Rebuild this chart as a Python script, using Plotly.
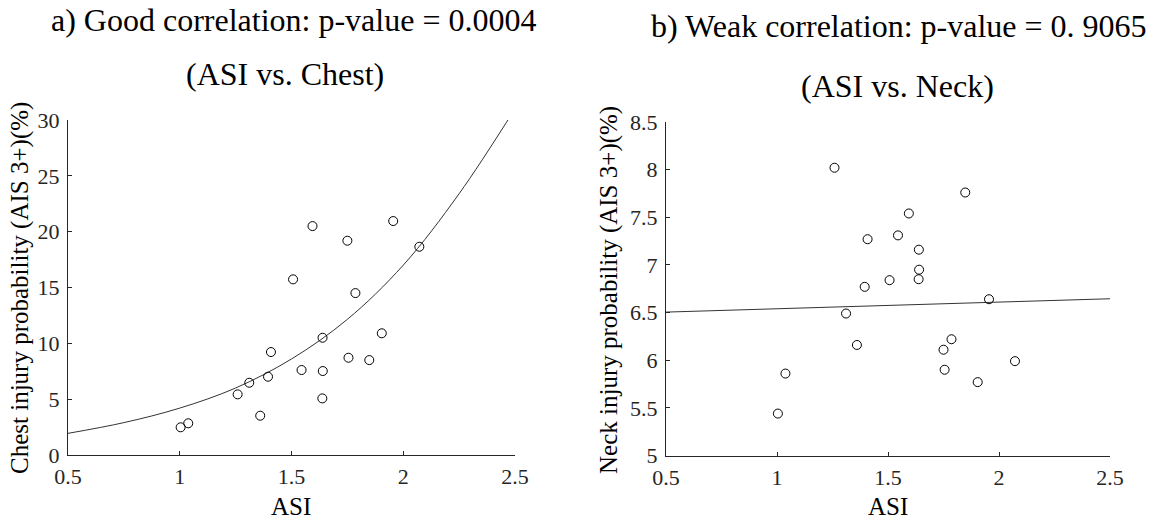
import plotly.graph_objects as go

W, H = 1151, 523

# ---- data ----
asi = [1.004, 1.038, 1.259, 1.311, 1.360, 1.395, 1.408, 1.507, 1.545, 1.594,
       1.639, 1.640, 1.638, 1.750, 1.755, 1.786, 1.848, 1.904, 1.955, 2.072]
chest = [2.48, 2.84, 5.43, 6.47, 3.52, 7.01, 9.22, 15.73, 7.61, 20.50,
         10.50, 7.52, 5.07, 19.19, 8.71, 14.50, 8.50, 10.90, 20.95, 18.65]
neck = [5.44, 5.86, 8.02, 6.49, 6.16, 6.77, 7.27, 6.84, 7.31, 7.54,
        7.16, 6.95, 6.85, 6.11, 5.90, 6.22, 7.76, 5.77, 6.64, 5.99]

# fitted curves
chest_fit_x = [0.5, 0.75, 1.0, 1.25, 1.5, 1.75, 2.0, 2.25, 2.5]
chest_fit_y = [1.94, 2.90, 4.20, 6.00, 8.60, 12.15, 17.0, 23.4, 31.0]
neck_fit_x = [0.5, 2.5]
neck_fit_y = [6.505, 6.645]

x_ticks = [0.5, 1, 1.5, 2, 2.5]
chest_ticks = [0, 5, 10, 15, 20, 25, 30]
neck_ticks = [5, 5.5, 6, 6.5, 7, 7.5, 8, 8.5]

titles_a = ["a) Good correlation: p-value = 0.0004", "(ASI vs. Chest)"]
titles_b = ["b) Weak correlation: p-value = 0. 9065", "(ASI vs. Neck)"]
ylab_a = "Chest injury probability (AIS 3+)(%)"
ylab_b = "Neck injury probability (AIS 3+)(%)"
xlab = "ASI"

FONT = "Liberation Serif, Times New Roman, serif"
TXT = "#262626"
AX = "#262626"

def px(x):
    return x / W

def py(y):
    return 1 - y / H

fig = go.Figure()

marker = dict(symbol="circle-open", size=9, color="black", line=dict(width=1, color="black"))

fig.add_trace(go.Scatter(x=chest_fit_x, y=chest_fit_y, mode="lines",
                         line=dict(color="#333333", width=1, shape="spline"),
                         xaxis="x", yaxis="y", showlegend=False, hoverinfo="skip"))
fig.add_trace(go.Scatter(x=asi, y=chest, mode="markers", marker=marker,
                         xaxis="x", yaxis="y", showlegend=False, cliponaxis=False))
fig.add_trace(go.Scatter(x=neck_fit_x, y=neck_fit_y, mode="lines",
                         line=dict(color="#333333", width=1),
                         xaxis="x2", yaxis="y2", showlegend=False, hoverinfo="skip"))
fig.add_trace(go.Scatter(x=asi, y=neck, mode="markers", marker=marker,
                         xaxis="x2", yaxis="y2", showlegend=False, cliponaxis=False))

def xaxis(domain, anchor):
    return dict(domain=domain, anchor=anchor, range=[0.5, 2.5], tickvals=x_ticks,
                ticktext=[f"{v:g}" for v in x_ticks],
                showline=True, linecolor=AX, linewidth=1, mirror=False,
                ticks="inside", ticklen=4, tickcolor=AX, tickwidth=1,
                showgrid=False, zeroline=False, automargin=False,
                tickfont=dict(family=FONT, size=22, color=TXT),
                ticklabelstandoff=2, fixedrange=True)

def yaxis(domain, anchor, rng, ticks):
    return dict(domain=domain, anchor=anchor, range=rng, tickvals=ticks,
                ticktext=[f"{v:g}" for v in ticks],
                showline=True, linecolor=AX, linewidth=1, mirror=False,
                ticks="inside", ticklen=4, tickcolor=AX, tickwidth=1,
                showgrid=False, zeroline=False, automargin=False,
                tickfont=dict(family=FONT, size=22, color=TXT),
                ticklabelstandoff=3, fixedrange=True)

fig.update_layout(
    template="none",
    width=W, height=H,
    font=dict(family=FONT, color=TXT),
    margin=dict(l=0, r=0, t=0, b=0),
    paper_bgcolor="white", plot_bgcolor="white",
    xaxis=xaxis([px(68), px(515)], "y"),
    yaxis=yaxis([py(455), py(120)], "x", [0, 30], chest_ticks),
    xaxis2=xaxis([px(666), px(1110)], "y2"),
    yaxis2=yaxis([py(455.5), py(122)], "x2", [5, 8.5], neck_ticks),
)

ann = []
def text(t, x, y, size, angle=0):
    ann.append(dict(text=t, x=px(x), y=py(y), xref="paper", yref="paper",
                    xanchor="center", yanchor="middle", showarrow=False,
                    textangle=angle, font=dict(family=FONT, size=size, color="black")))

text(titles_a[0], 293, 20, 32)
text(titles_a[1], 285, 74, 32)
text(titles_b[0], 899, 26, 32)
text(titles_b[1], 897, 86, 32)
text(ylab_a, 20, 288, 25, -90)
text(ylab_b, 609, 290, 25, -90)
text(xlab, 291, 506, 25)
text(xlab, 888, 506, 25)
fig.update_layout(annotations=ann)

fig.write_html("out.html")
